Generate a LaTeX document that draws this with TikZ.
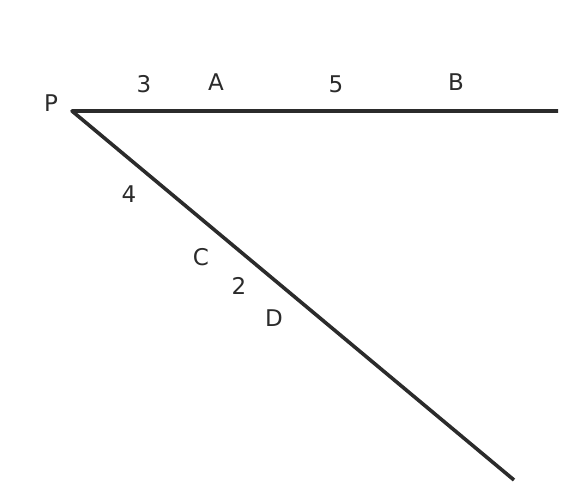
\documentclass[tikz,border=0pt]{standalone}
\usepackage{fontspec}
\setmainfont{DejaVu Sans}
\definecolor{ink}{HTML}{2B2B2B}
\begin{document}
\begin{tikzpicture}[x=1pt,y=-1pt,
  lbl/.style={text=ink,font=\fontsize{23}{27}\selectfont,inner sep=0pt},
  seg/.style={draw=ink,line width=3.6pt,line join=round}]
\useasboundingbox (0,0) rectangle (576,499);
\coordinate (P) at (72,111);
\coordinate (E1) at (558,111);
\coordinate (E2) at (514,480);
\draw[seg] (E1) -- (P) -- (E2);
\node[lbl] (lP) at (51,103) {P};
\node[lbl] (l3) at (144,84) {3};
\node[lbl] (lA) at (216,82) {A};
\node[lbl] (l5) at (336,84) {5};
\node[lbl] (lB) at (456,82) {B};
\node[lbl] (l4) at (129,194) {4};
\node[lbl] (lC) at (201,257) {C};
\node[lbl] (l2) at (239,286) {2};
\node[lbl] (lD) at (274,318) {D};
\end{tikzpicture}
\end{document}
